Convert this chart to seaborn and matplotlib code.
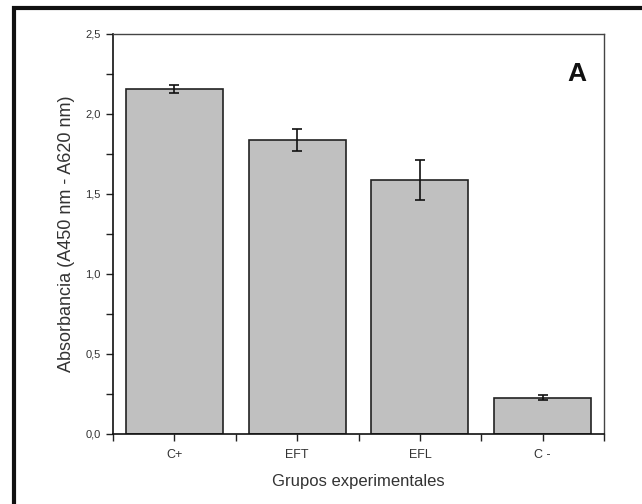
import matplotlib
matplotlib.use("Agg")
import matplotlib.pyplot as plt
from matplotlib.ticker import MultipleLocator, FuncFormatter, FixedLocator
from matplotlib.patches import Rectangle
import pandas as pd
import seaborn as sns

groups = ["C+", "EFT", "EFL", "C -"]
absorbance = [2.155, 1.837, 1.585, 0.226]
err = [0.028, 0.07, 0.126, 0.017]

sns.set_style("ticks")
plt.rcParams["font.family"] = ["Liberation Sans", "DejaVu Sans"]

df = pd.DataFrame({"Grupo": groups, "Abs": absorbance, "err": err})

fig = plt.figure(figsize=(6.42, 5.04), dpi=100)
ax = fig.add_axes([0.176, 0.139, 0.765, 0.794])

sns.barplot(data=df, x="Grupo", y="Abs", color="#c0c0c0", saturation=1,
            edgecolor="#222222", linewidth=1.2, width=0.79, errorbar=None, ax=ax)
ax.errorbar(range(len(groups)), df["Abs"], yerr=df["err"], fmt="none",
            ecolor="#111111", elinewidth=1.2, capsize=3.5, capthick=1.2)

ax.set_xlim(-0.5, 3.5)
ax.set_ylim(0, 2.5)
ax.yaxis.set_major_locator(MultipleLocator(0.5))
ax.yaxis.set_minor_locator(MultipleLocator(0.25))
ax.yaxis.set_major_formatter(FuncFormatter(lambda v, p: f"{v:.1f}".replace(".", ",")))
ax.xaxis.set_minor_locator(FixedLocator([-0.5, 0.5, 1.5, 2.5, 3.5]))
ax.tick_params(axis="both", which="both", direction="out", length=5, width=1, color="#222222")
ax.tick_params(axis="y", which="major", labelsize=8, labelcolor="#333333", pad=4)
ax.tick_params(axis="x", which="major", labelsize=9, labelcolor="#333333", pad=6)

for s in ["top", "right"]:
    ax.spines[s].set_visible(True)
    ax.spines[s].set_linewidth(1.0)
    ax.spines[s].set_color("#444444")
for s in ["left", "bottom"]:
    ax.spines[s].set_linewidth(1.2)
    ax.spines[s].set_color("#111111")

ax.set_xlabel("Grupos experimentales", fontsize=12, color="#333333", labelpad=9)
ax.set_ylabel("Absorbancia (A450 nm - A620 nm)", fontsize=13, color="#333333", labelpad=7)

ax.text(0.945, 0.9, "A", transform=ax.transAxes, fontsize=19, fontweight="bold",
        ha="center", va="center", color="#111111")

# outer frame of the panel
fig.patches.append(Rectangle((14 / 642, -0.05), 1.0, 1 - 8 / 504 + 0.05,
                             transform=fig.transFigure, fill=False,
                             edgecolor="#111111", linewidth=3, clip_on=False))

fig.savefig("out.png", dpi=100)
